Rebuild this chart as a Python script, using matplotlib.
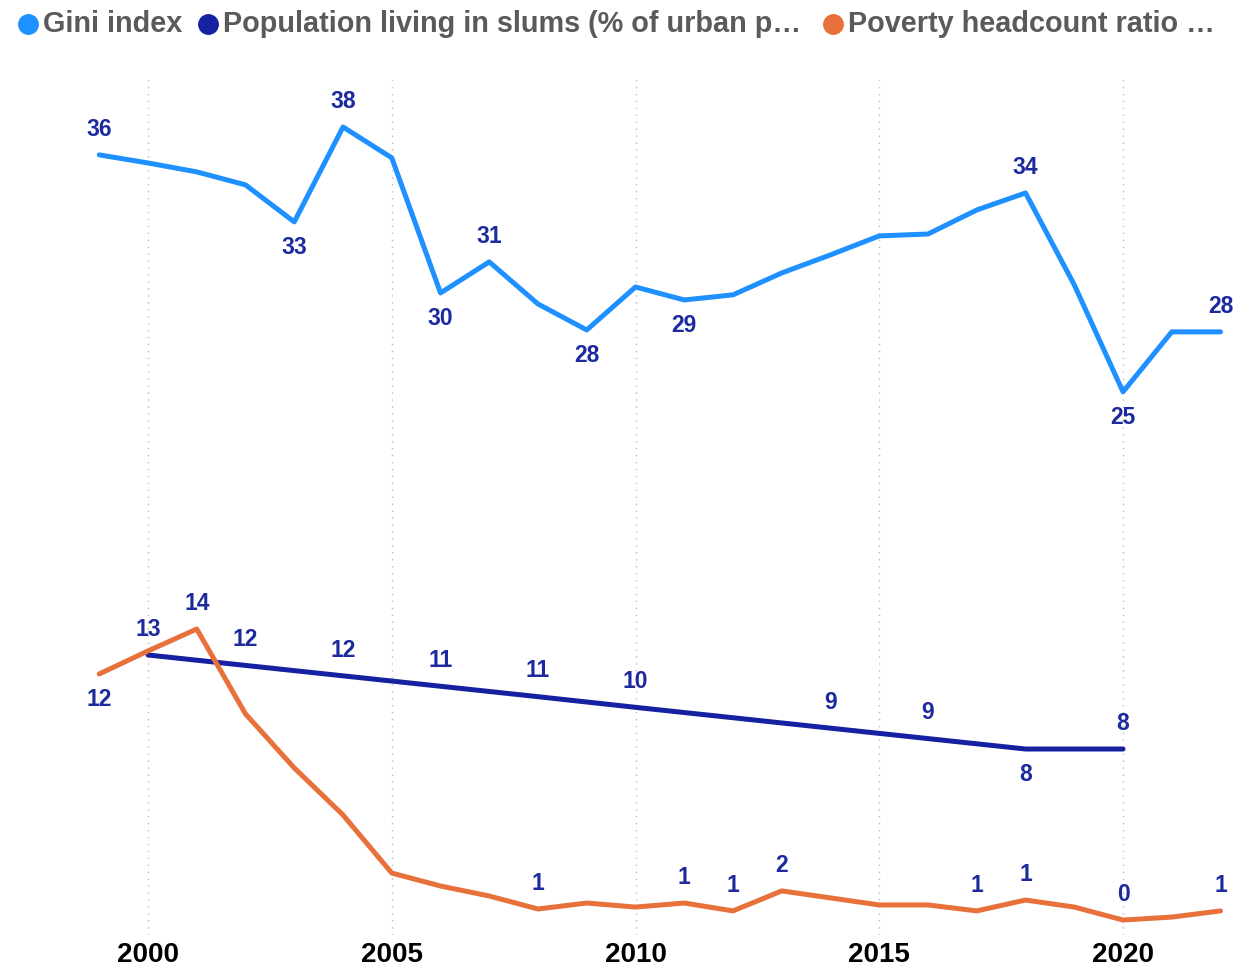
"""
Gini, favelas e pobreza: linhas com rótulos de valor.
"""

import matplotlib
matplotlib.use("Agg")
import matplotlib.pyplot as plt
from matplotlib.lines import Line2D

plt.rcParams['font.family'] = ['Liberation Sans', 'DejaVu Sans']

# dados
years = list(range(1999, 2023))
gini = [36.25, 35.87, 35.45, 34.84, 33.10, 37.56, 36.11, 29.76, 31.22, 29.24,
        28.02, 30.04, 29.43, 29.67, 30.70, 31.55, 32.44, 32.53, 33.66, 34.46,
        30.14, 25.11, 27.93, 27.93]
slum_years = [2000, 2002, 2004, 2006, 2008, 2010, 2014, 2016, 2018, 2020]
slums = [12.74, 12.25, 11.76, 11.27, 10.78, 10.28, 9.30, 8.81, 8.32, 8.32]
poverty = [11.85, 12.93, 13.96, 9.97, 7.43, 5.22, 2.49, 1.88, 1.41, 0.80,
           1.08, 0.89, 1.08, 0.71, 1.65, 1.32, 0.99, 0.99, 0.71, 1.22,
           0.89, 0.28, 0.42, 0.71]

# anos com rótulo: +1 acima, -1 abaixo
gini_labels = {1999: 1, 2003: -1, 2004: 1, 2006: -1, 2007: 1, 2009: -1,
               2011: -1, 2018: 1, 2020: -1, 2022: 1}
slum_labels = {2000: 1, 2002: 1, 2004: 1, 2006: 1, 2008: 1, 2010: 1,
               2014: 1, 2016: 1, 2018: -1, 2020: 1}
poverty_labels = {1999: -1, 2001: 1, 2008: 1, 2011: 1, 2012: 1, 2013: 1,
                  2017: 1, 2018: 1, 2020: 1, 2022: 1}

series_names = ["Gini index", "Population living in slums (% of urban p\u2026",
                "Poverty headcount ratio \u2026"]
c_gini = '#1E90FF'
c_slum = '#1521A0'
c_pov = '#E8703A'
c_label = '#1C2A9E'

W, H = 1235, 968
fig = plt.figure(figsize=(W / 100, H / 100), dpi=100)
ax = fig.add_axes([0, (H - 935) / H, 1, (935 - 80) / H])

ax.plot(years, gini, color=c_gini, lw=3.6, solid_capstyle='round', zorder=3)
ax.plot(slum_years, slums, color=c_slum, lw=3.6, solid_capstyle='round', zorder=3)
ax.plot(years, poverty, color=c_pov, lw=3.6, solid_capstyle='round', zorder=3)


def add_labels(xs, ys, which):
    for x, y in zip(xs, ys):
        if x in which:
            ax.annotate(str(int(round(y))), (x, y), xytext=(0, 18.5 * which[x]),
                        textcoords='offset points', ha='center', va='center',
                        fontsize=16.5, fontweight='bold', color=c_label, zorder=4)


add_labels(years, gini, gini_labels)
add_labels(slum_years, slums, slum_labels)
add_labels(years, poverty, poverty_labels)

ax.set_xlim(1996.964, 2022.297)
ax.set_ylim(-0.423, 39.77)
ax.set_xticks([2000, 2005, 2010, 2015, 2020])
ax.set_yticks([])
ax.tick_params(axis='x', length=0, pad=5, labelsize=20)
for lab in ax.get_xticklabels():
    lab.set_fontweight('bold')
ax.grid(axis='x', color='#bbbbbb', linestyle=(0, (1, 4)), linewidth=1)
for s in ax.spines.values():
    s.set_visible(False)

# legenda manual no topo
leg_x = [28, 208, 833]
for x, name, c in zip(leg_x, series_names, [c_gini, c_slum, c_pov]):
    fig.add_artist(Line2D([x / W], [1 - 24 / H], marker='o', markersize=14,
                          color=c, transform=fig.transFigure))
    fig.text((x + 15) / W, 1 - 24 / H, name, ha='left', va='center',
             fontsize=20.8, fontweight='bold', color='#5a5a5a')

plt.savefig("out.png", dpi=100)
